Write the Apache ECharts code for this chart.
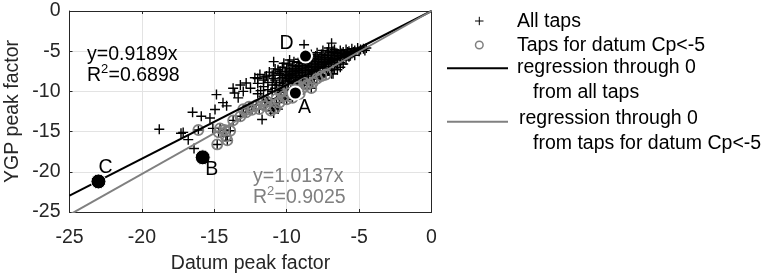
<!DOCTYPE html>
<html>
<head>
<meta charset="utf-8">
<script src="https://cdn.jsdelivr.net/npm/echarts@6/dist/echarts.min.js"></script>
<style>
html,body{margin:0;padding:0;background:#fff;}
#c{width:765px;height:279px;}
</style>
</head>
<body>
<div id="c"></div>
<script>
// ---------- data ----------
const xTicks = [-25, -20, -15, -10, -5, 0];
const yTicks = [-25, -20, -15, -10, -5, 0];

// crosses that are not among the Cp<-5 taps
const crossOnly = [
  [-18.8,-14.7],[-17.3,-15.2],[-17.15,-15.1],[-16.8,-16.0],[-16.4,-17.1],[-16.5,-12.6],[-15.9,-13.1],
  [-15.3,-13.3],[-15.1,-14.6],[-14.85,-10.4],[-14.95,-12.25],[-14.4,-11.4],[-14.15,-11.8],
  [-13.7,-9.6],[-13.6,-10.2],[-13.35,-10.8],[-13.2,-9.2],[-13.0,-10.0],[-12.8,-8.95],[-12.5,-9.6],
  [-12.2,-8.3],[-11.85,-7.9],[-11.4,-8.1],[-10.9,-7.7],[-10.45,-7.5],[-11.7,-13.5],[-10.9,-12.7],
  [-10.6,-12.2],[-10.9,-6.3],[-10.2,-6.5],[-9.8,-6.1],[-8.8,-4.2],[-6.9,-4.0],[-4.5,-4.6],[-4.9,-4.8],
  [-12.0,-9.0],[-12.0,-10.3],[-12.0,-8.4],
  [-11.6,-9.4],[-11.6,-8.6],[-11.6,-10.6],
  [-11.3,-8.9],[-11.3,-9.8],[-11.3,-11.1],
  [-11.0,-8.0],[-11.0,-9.2],[-11.0,-10.0],[-11.0,-11.7],
  [-10.8,-8.6],[-10.8,-9.6],[-10.8,-7.2],
  [-10.5,-7.8],[-10.5,-8.9],[-10.5,-9.9],[-10.5,-10.8],
  [-10.3,-7.0],[-10.3,-8.3],[-10.3,-9.3],
  [-10.1,-7.6],[-10.1,-8.7],[-10.1,-9.6],[-10.1,-10.5],
  [-9.9,-6.6],[-9.9,-7.9],[-9.9,-8.4],[-9.9,-9.1],
  [-9.7,-7.2],[-9.7,-8.0],[-9.7,-8.8],[-9.7,-9.8],
  [-9.5,-6.3],[-9.5,-7.5],[-9.5,-8.3],[-9.5,-9.0],
  [-9.3,-6.9],[-9.3,-7.7],[-9.3,-8.6],[-9.3,-9.4],
  [-9.1,-6.0],[-9.1,-7.1],[-9.1,-8.0],[-9.1,-8.9],
  [-8.9,-6.5],[-8.9,-7.4],[-8.9,-8.2],[-8.9,-9.2],
  [-8.7,-6.8],[-8.7,-7.6],[-8.7,-8.4],
  [-8.5,-6.2],[-8.5,-7.0],[-8.5,-7.9],[-8.5,-8.7],
  [-8.3,-5.4],[-8.3,-6.6],[-8.3,-7.3],[-8.3,-8.1],
  [-8.1,-5.9],[-8.1,-6.9],[-8.1,-7.7],[-8.1,-8.5],
  [-7.9,-5.2],[-7.9,-6.3],[-7.9,-7.1],[-7.9,-7.9],
  [-7.7,-5.7],[-7.7,-6.6],[-7.7,-7.4],[-7.7,-8.2],
  [-7.5,-4.9],[-7.5,-6.0],[-7.5,-6.9],[-7.5,-7.6],
  [-7.3,-5.5],[-7.3,-6.3],[-7.3,-7.1],[-7.3,-8.0],
  [-7.1,-4.6],[-7.1,-5.8],[-7.1,-6.6],[-7.1,-7.4],
  [-6.9,-5.2],[-6.9,-6.1],[-6.9,-6.9],[-6.9,-7.8],
  [-6.7,-4.8],[-6.7,-5.6],[-6.7,-6.4],[-6.7,-7.2],
  [-6.5,-5.3],[-6.5,-5.9],[-6.5,-6.7],
  [-6.3,-4.9],[-6.3,-5.6],[-6.3,-6.4],
  [-6.1,-5.1],[-6.1,-5.8],[-6.1,-6.6],
  [-5.9,-4.8],[-5.9,-5.4],[-5.9,-6.1],
  [-5.7,-5.0],[-5.7,-5.7],[-5.5,-4.7],[-5.5,-5.3],
  [-5.3,-4.9],[-5.3,-5.5],[-5.1,-4.6],
  [-11.8,-9.9],[-11.5,-8.2],[-11.2,-7.6],[-10.9,-8.4],[-10.7,-9.2],[-10.6,-7.3],[-10.4,-8.0],
  [-10.2,-9.0],[-10.0,-7.2],[-10.0,-8.1],[-9.8,-7.5],[-9.8,-8.6],[-9.6,-6.8],[-9.6,-7.8],
  [-9.4,-7.2],[-9.4,-8.1],[-9.2,-6.4],[-9.2,-7.4],[-9.0,-6.8],[-9.0,-7.7],[-8.8,-6.1],[-8.8,-7.2],
  [-8.6,-6.5],[-8.6,-7.4],[-8.4,-5.9],[-8.4,-6.9],[-8.2,-6.2],[-8.2,-7.5],[-8.0,-5.6],[-8.0,-6.7],
  [-7.8,-6.0],[-7.8,-7.0],[-7.6,-5.4],[-7.6,-6.4],[-7.4,-5.8],[-7.4,-6.7],[-7.2,-5.1],[-7.2,-6.1],
  [-7.0,-5.5],[-7.0,-6.4],[-6.8,-5.0],[-6.8,-5.9],[-6.6,-5.2],[-6.6,-6.1],[-6.4,-5.5],[-6.2,-5.3],
  [-6.0,-5.6],[-5.8,-5.1],[-5.6,-5.4],[-5.4,-5.1],[-5.0,-5.0],[-4.7,-4.7],[-4.6,-4.9],
  [-6.8,-7.8],[-6.5,-7.3],[-6.3,-7.0]
];

// taps for datum Cp<-5 (also part of "All taps")
const cpTaps = [
  [-16.1,-14.8],[-14.7,-15.1],[-14.6,-14.6],[-14.8,-16.6],[-14.3,-14.8],[-14.2,-15.6],[-14.1,-16.1],
  [-13.9,-14.9],[-13.7,-13.6],[-13.2,-13.1],[-12.8,-12.6],[-12.4,-12.3],[-11.9,-12.2],[-11.5,-11.8],
  [-11.1,-12.4],[-10.8,-12.1],[-11.4,-11.2],[-10.5,-11.4],[-10.2,-10.6],[-10.0,-11.0],[-9.8,-10.2],
  [-9.6,-10.8],[-9.4,-9.8],[-9.1,-10.3],[-8.9,-9.6],[-8.6,-9.2],[-8.3,-9.6],[-8.2,-8.9],[-7.9,-8.4],
  [-7.6,-8.1],[-7.3,-7.9],[-12.1,-11.7],[-11.7,-11.3],[-10.7,-10.9],[-10.4,-10.1],[-9.9,-9.7],
  [-9.2,-9.4],[-8.8,-8.9],[-12.6,-11.9],[-13.0,-12.2]
];

// highlighted taps
const specialNames = ['A', 'B', 'C', 'D'];
const specialX = [-9.4, -15.8, -23.0, -8.7];
const specialY = [-10.2, -18.2, -21.2, -5.6];

// regression lines through 0 (end points)
const slopeAll = 0.9189, r2All = 0.6898;
const slopeCp = 1.0137, r2Cp = 0.9025;
const regAll = [[-25, -22.97], [0, 0]];
const regCp = [[-25, -25.34], [0, 0]];

// ---------- chart ----------
const FONT = 'Liberation Sans, Arial, sans-serif';
const FS = 19.5;
const DARK = '#262626';
const GRAY = '#808080';
const crossPath = 'path://M4.3,0H5.7V4.3H10V5.7H5.7V10H4.3V5.7H0V4.3H4.3Z';

const allTaps = crossOnly.concat(cpTaps);

const specialStyle = {
  A: {size: 13, bw: 2, off: [9, 15]},
  B: {size: 15, bw: 1, off: [9, 12]},
  C: {size: 15, bw: 1, off: [7, -14]},
  D: {size: 13, bw: 2, off: [-19, -12]}
};
const specialData = specialNames.map((n, i) => ({
  value: [specialX[i], specialY[i]],
  name: n,
  symbolSize: specialStyle[n].size,
  itemStyle: {color: '#000', borderColor: '#fff', borderWidth: specialStyle[n].bw, opacity: 1},
  label: {show: true, formatter: n, position: 'inside', offset: specialStyle[n].off,
          color: '#000', fontSize: FS, fontFamily: FONT}
}));

const axisCommon = {
  type: 'value', min: xTicks[0], max: xTicks[xTicks.length - 1], interval: 5,
  axisLine: {show: true, onZero: false, lineStyle: {color: DARK, width: 1}},
  axisTick: {show: true, inside: true, length: 3, lineStyle: {color: DARK}},
};

const chart = echarts.init(document.getElementById('c'), null, {renderer: 'canvas'});
const txt = (t, x, y, color, size) => ({
  type: 'text', x: x, y: y, z: 100,
  style: {text: t, fill: color, fontSize: size || FS, fontFamily: FONT, verticalAlign: 'middle', align: 'left'}
});
// R^2 text with a raised "2"
const r2Text = (val, x, y, color) => [
  txt('R', x, y, color),
  txt('2', x + 14.1, y - 7, color, 13),
  txt('=' + val.toFixed(4), x + 21.6, y, color)
];

chart.setOption({
  animation: false,
  backgroundColor: '#fff',
  grid: {left: 69.5, right: 333.5, top: 11, bottom: 65.5, containLabel: false},
  xAxis: [
    Object.assign({}, axisCommon, {
      position: 'bottom',
      name: 'Datum peak factor', nameLocation: 'middle', nameGap: 42,
      nameTextStyle: {color: DARK, fontSize: FS, fontFamily: FONT},
      axisLabel: {color: DARK, fontSize: FS, fontFamily: FONT, margin: 16},
      splitLine: {show: true, lineStyle: {color: '#e3e3e3', width: 1}}
    }),
    Object.assign({}, axisCommon, {
      position: 'top', axisLabel: {show: false}, splitLine: {show: false}
    })
  ],
  yAxis: [
    Object.assign({}, axisCommon, {
      min: yTicks[0], max: yTicks[yTicks.length - 1],
      position: 'left',
      name: 'YGP peak factor', nameLocation: 'middle', nameGap: 47,
      nameTextStyle: {color: DARK, fontSize: FS, fontFamily: FONT},
      axisLabel: {color: DARK, fontSize: FS, fontFamily: FONT, margin: 9},
      splitLine: {show: true, lineStyle: {color: '#e3e3e3', width: 1}}
    }),
    Object.assign({}, axisCommon, {
      min: yTicks[0], max: yTicks[yTicks.length - 1],
      position: 'right', axisLabel: {show: false}, splitLine: {show: false}
    })
  ],
  series: [
    {
      name: 'All taps', type: 'scatter', data: allTaps, symbol: crossPath, symbolSize: 10,
      itemStyle: {color: '#000', opacity: 1}, z: 2
    },
    {
      name: 'Taps for datum Cp<-5', type: 'scatter', data: cpTaps, symbol: 'circle', symbolSize: 10,
      itemStyle: {color: 'rgba(0,0,0,0)', borderColor: GRAY, borderWidth: 1.8, opacity: 1}, z: 3
    },
    {
      name: 'regression through 0 from all taps', type: 'line', data: regAll, symbol: 'none',
      lineStyle: {color: '#000', width: 2}, z: 4, clip: true
    },
    {
      name: 'regression through 0 from taps for datum Cp<-5', type: 'line', data: regCp, symbol: 'none',
      lineStyle: {color: GRAY, width: 2}, z: 4, clip: true
    },
    {
      name: 'highlighted', type: 'scatter', data: specialData, z: 6,
      itemStyle: {opacity: 1}
    }
  ],
  graphic: [
    txt('y=' + slopeAll.toFixed(4) + 'x', 87, 55, '#000'),
    ...r2Text(r2All, 87, 76, '#000'),
    txt('y=' + slopeCp.toFixed(4) + 'x', 253, 177, GRAY),
    ...r2Text(r2Cp, 253, 198, GRAY),
    // legend
    {type: 'line', shape: {x1: 475, y1: 21, x2: 483.5, y2: 21}, style: {stroke: '#000', lineWidth: 1}, z: 100},
    {type: 'line', shape: {x1: 479.3, y1: 16.8, x2: 479.3, y2: 25.2}, style: {stroke: '#000', lineWidth: 1}, z: 100},
    txt('All taps', 517, 21.5, '#000'),
    {type: 'circle', shape: {cx: 479.3, cy: 45, r: 3.8}, style: {fill: 'none', stroke: GRAY, lineWidth: 1.5}, z: 100},
    txt('Taps for datum Cp<-5', 517, 45.5, '#000'),
    {type: 'line', shape: {x1: 447, y1: 68.3, x2: 508, y2: 68.3}, style: {stroke: '#000', lineWidth: 2}, z: 100},
    txt('regression through 0', 517, 68, '#000'),
    txt('from all taps', 533, 93, '#000'),
    {type: 'line', shape: {x1: 447, y1: 121.7, x2: 508, y2: 121.7}, style: {stroke: GRAY, lineWidth: 2}, z: 100},
    txt('regression through 0', 519, 119, '#000'),
    txt('from taps for datum Cp<-5', 533, 144, '#000')
  ]
});
</script>
</body>
</html>
